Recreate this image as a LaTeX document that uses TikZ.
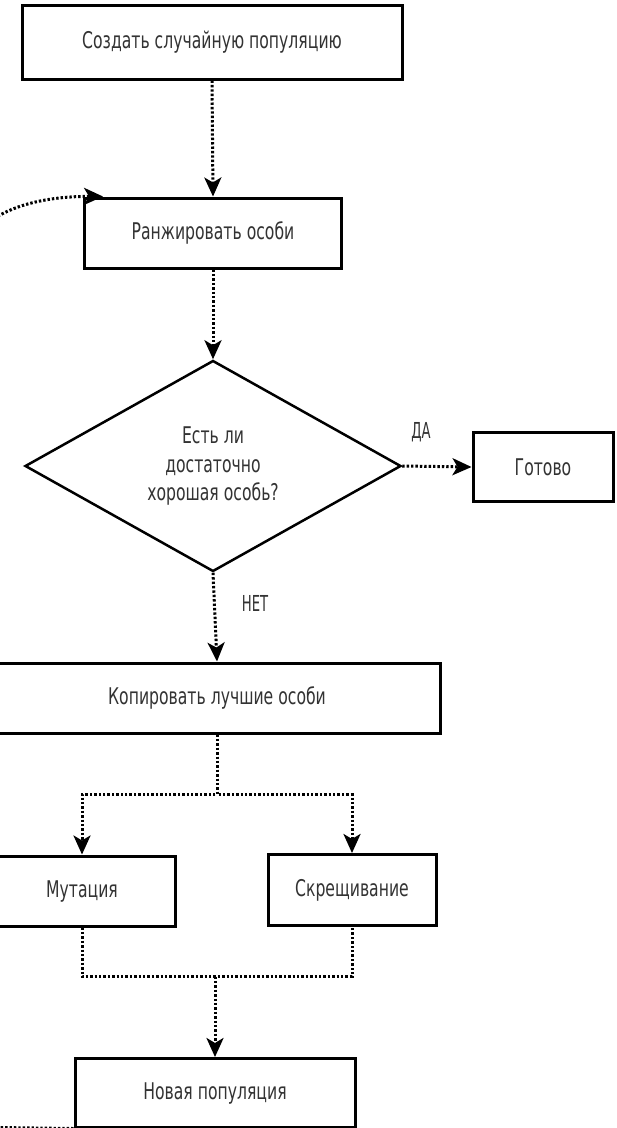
\documentclass[tikz,border=0pt]{standalone}
\usepackage{fontspec}
\setmainfont[FakeStretch=0.68]{DejaVu Sans}
\newfontfamily\lblfont[FakeStretch=0.6]{DejaVu Sans}
\usetikzlibrary{arrows.meta,shapes.geometric,calc}
\begin{document}
\begin{tikzpicture}[x=1pt,y=-1pt,
  box/.style={draw=black,line width=3pt,fill=white,inner sep=0pt,text=black!80,
    font=\fontsize{23}{29}\selectfont},
  dec/.style={draw=black,line width=2.5pt,fill=white,shape=diamond,inner sep=0pt,
    text=black!80,align=center,font=\fontsize{23}{29}\selectfont},
  dots/.style={line width=3pt,dash pattern=on 2.4pt off 2pt,black},
  flow/.style={dots,-{Stealth[length=19pt,width=17pt,inset=5pt]}},
  lbl/.style={text=black!80,font=\lblfont\fontsize{22}{22}\selectfont,inner sep=0pt}]
\useasboundingbox (0,0) rectangle (617,1128);
\clip (0,0) rectangle (617,1128);
\fill[white] (0,0) rectangle (617,1128);

\node[box,minimum width=380pt,minimum height=74pt] (n1) at (212,42) {Создать случайную популяцию};
\node[box,minimum width=257pt,minimum height=70pt] (n2) at (213,233) {Ранжировать особи};
\node[dec,minimum width=376pt,minimum height=201pt] (d) at (213,466) {Есть ли\\достаточно\\хорошая особь?};
\node[box,minimum width=140pt,minimum height=69pt] (done) at (543,467) {Готово};
\node[box,minimum width=446pt,minimum height=70pt] (n3) at (217,698) {Копировать лучшие особи};
\node[box,minimum width=186pt,minimum height=70pt] (mut) at (82,891) {Мутация};
\node[box,minimum width=168pt,minimum height=71pt] (cross) at (352,890) {Скрещивание};
\node[box,minimum width=280pt,minimum height=69pt] (nb) at (215,1093) {Новая популяция};

\node[lbl] (yes) at (421,432) {ДА};
\node[lbl] (no) at (255,603) {НЕТ};

\draw[flow] (n1.south) -- (n2.north);
\draw[flow] (n2.south) -- (d.north);
\draw[flow] (d.east) -- (done.west);
\draw[flow] (d.south) -- (n3.north);
\draw[flow] (n3.south) -- ++(0,60) -| (mut.north);
\draw[flow] (n3.south) -- ++(0,60) -| (cross.north);
\coordinate (m) at ($(mut.south)+(0,49)$);
\draw[dots] (mut.south) -- (m) -| (cross.south);
\draw[flow] (m -| nb.north) -- (nb.north);
\draw[flow] ($(nb.south west)+(0,-0.5)$) -- (-40,1127) -- (-40,280)
  .. controls (-40,215) and (30,196) .. ($(n2.north west)+(20,0)$);
\end{tikzpicture}
\end{document}
